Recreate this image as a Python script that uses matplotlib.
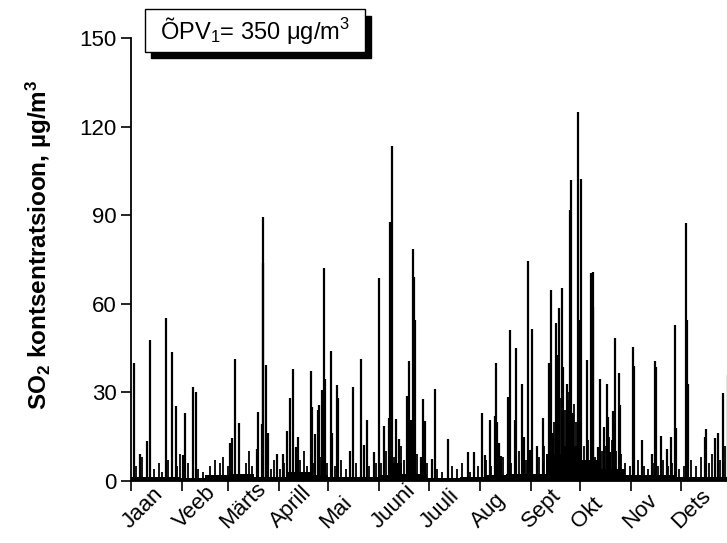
import numpy as np
import matplotlib
matplotlib.use("Agg")
import matplotlib.pyplot as plt
import matplotlib.transforms as mtransforms
from matplotlib.patches import Rectangle

plt.rcParams['font.family'] = ['Liberation Sans', 'DejaVu Sans']
plt.rcParams['mathtext.fontset'] = 'custom'
plt.rcParams['mathtext.rm'] = 'Liberation Sans'
plt.rcParams['mathtext.it'] = 'Liberation Sans:italic'
plt.rcParams['mathtext.bf'] = 'Liberation Sans:bold'

# month starts (day of year) and labels
month_days = [0, 31, 59, 90, 120, 151, 181, 212, 243, 273, 304, 334]
month_labels = ['Jaan', 'Veeb', 'Märts', 'Aprill', 'Mai', 'Juuni',
                'Juuli', 'Aug', 'Sept', 'Okt', 'Nov', 'Dets']
y_ticks = [0, 30, 60, 90, 120, 150]

# peak hours: day of year, SO2 value
peak_days = [1.9, 5.7, 9.8, 11.8, 21.3, 25.1, 27.4, 32.0, 33.3, 37.9, 39.7,
             60.4, 61.4, 63.4, 65.6, 77.0, 77.6, 79.6, 80.3, 80.6, 82.2, 83.2,
             88.7, 92.3, 94.8, 96.8, 98.4, 100.4, 101.4,
             109.3, 110.1, 112.1, 114.0, 114.6, 116.0, 117.2, 118.0, 121.5,
             122.3, 125.1, 126.1, 133.2, 134.9, 139.9, 141.9, 143.7, 147.8,
             150.8, 153.7, 156.7, 157.5, 158.7, 161.1, 162.8, 167.6, 168.8,
             170.1, 171.6, 172.0, 172.9, 176.1, 177.7, 178.7, 182.8, 184.8,
             192.5, 204.7, 208.5, 213.4, 215.4, 218.2, 221.1, 221.9, 222.7,
             223.5, 224.9, 229.1, 230.4, 233.2, 234.0, 237.6, 238.7, 241.5,
             242.4, 243.6, 246.6, 250.2, 253.9, 255.1, 256.3, 258.3, 259.5,
             260.3, 261.7, 262.7, 264.8, 265.4, 266.8, 267.4, 268.8, 271.6,
             272.4, 273.5, 276.9, 279.4, 280.6, 280.8, 284.0, 285.2, 287.4,
             289.1, 289.9, 291.1, 293.1, 294.1, 296.5, 297.1, 304.9, 305.8,
             310.3, 316.8, 318.4, 319.0, 321.9, 325.5, 327.9, 330.6, 331.2,
             337.2, 337.8, 338.2, 348.6, 349.6, 354.7, 356.6, 359.6, 362.5,
             363.7]
peak_vals = [39.8, 9.3, 13.5, 47.7, 55.1, 43.8, 25.4, 8.7, 22.9, 31.8, 30.0,
             12.7, 14.4, 41.2, 19.5, 11.0, 23.3, 19.3, 73.7, 89.3, 39.3, 16.1,
             9.0, 9.0, 17.0, 28.0, 37.9, 11.6, 14.8,
             37.3, 25.1, 15.9, 24.0, 25.7, 30.8, 72.0, 34.4, 43.9,
             16.1, 32.4, 28.2, 10.1, 31.9, 41.2, 12.2, 20.6, 9.9,
             68.6, 18.6, 21.4, 87.8, 113.6, 20.9, 14.1, 28.7, 40.6,
             20.8, 78.5, 69.2, 54.5, 8.2, 27.7, 20.3, 7.6, 31.0,
             14.1, 9.9, 9.9, 22.9, 8.7, 20.6, 22.0, 39.9, 20.0,
             13.0, 8.4, 28.4, 51.1, 20.8, 45.2, 32.7, 15.0, 74.6,
             10.4, 51.4, 11.9, 21.3, 39.8, 64.6, 16.1, 53.4, 42.6,
             58.5, 65.5, 38.5, 33.0, 27.4, 91.8, 102.0, 23.1, 125.0,
             54.5, 102.2, 41.0, 70.3, 59.0, 70.8, 11.6, 34.6, 18.3,
             33.0, 21.7, 9.9, 23.7, 48.5, 36.4, 25.9, 45.5, 38.9,
             13.8, 9.3, 40.6, 38.7, 15.2, 11.0, 14.8, 52.8, 18.0,
             87.3, 54.5, 32.7, 15.0, 17.6, 14.4, 16.3, 29.7, 35.9,
             13.0]

# smaller hourly values near the floor
small_days = [3, 7, 14, 17, 19, 23, 28, 30, 35, 41, 44, 48, 51, 54, 56,
              59, 66, 70, 72, 74, 85, 87, 89, 91, 93, 103, 105, 107, 111, 115,
              119, 124, 128, 131, 137, 145, 149, 152, 155, 160, 164, 166, 170,
              174, 180, 186, 189, 195, 198, 201, 206, 211, 216, 219, 226, 231,
              236, 240, 244, 248, 251, 254, 255.5, 257, 258.8, 261, 263.5, 266,
              267, 269.5, 270.5, 273, 275, 277.5, 282, 286, 288, 290.5, 292,
              295, 298, 300, 303, 308, 312, 314, 317, 320, 323, 326, 329, 333,
              336, 340, 343, 346, 351, 353, 358, 361, 364]
small_vals = [5, 8, 4, 6, 3, 7, 5, 9, 6, 4, 3, 5, 7, 6, 8,
              5, 8, 6, 10, 5, 4, 7, 5, 4, 6, 7, 10, 5, 6, 8,
              6, 5, 7, 4, 6, 5, 6, 6, 10, 8, 12, 7, 5,
              9, 6, 4, 3, 5, 4, 6, 3, 5, 7, 5, 8, 6,
              10, 7, 6, 8, 12, 18, 22, 20, 25, 28, 24, 30,
              18, 26, 20, 16, 12, 14, 8, 10, 12, 15, 14,
              10, 9, 6, 5, 7, 5, 4, 6, 5, 7, 5, 6, 4,
              5, 7, 5, 8, 6, 9, 7, 12, 8]

# typical background level between the peaks
bg_days = [0, 30, 45, 60, 75, 95, 110, 120, 150, 157, 165, 180, 200, 215,
           228, 252, 262, 272, 283, 300, 330, 365]
bg_level = [1.5, 1.0, 2.0, 2.5, 1.5, 3.0, 2.0, 1.5, 2.0, 6.0, 2.5, 1.0, 1.5,
            2.0, 2.5, 9.0, 12.0, 7.0, 4.0, 2.0, 1.5, 1.5]


def main():
    fig = plt.figure(figsize=(7.27, 5.43), dpi=100)
    ax = fig.add_axes([0.1796, 0.1142, 0.8270, 0.8158])

    ax.fill_between(bg_days, 0, bg_level, step='post', color='black', lw=0)
    ax.vlines(small_days, 0, small_vals, color='black', lw=1.3)
    ax.vlines(peak_days, 0, peak_vals, color='black', lw=1.6)

    ax.set_xlim(0, 365)
    ax.set_ylim(0, 150)
    ax.set_yticks(y_ticks)
    ax.set_xticks(month_days)
    ax.set_xticklabels([])

    # slanted month names, starting just left of each tick
    base = mtransforms.blended_transform_factory(ax.transData, ax.transAxes)
    shift = mtransforms.ScaledTranslation(-0.05, -0.44, fig.dpi_scale_trans)
    for d, name in zip(month_days, month_labels):
        ax.text(d, 0, name, transform=base + shift, rotation=45,
                rotation_mode='anchor', ha='left', va='center',
                fontsize=16, clip_on=False)

    ax.tick_params(axis='y', labelsize=16, length=7, width=1.2,
                   direction='out', pad=3)
    ax.tick_params(axis='x', length=7, width=1.2, direction='out')
    for side in ['top', 'right']:
        ax.spines[side].set_visible(False)
    for side in ['left', 'bottom']:
        ax.spines[side].set_linewidth(1.3)

    fig.text(0.054, 0.550,
             r'SO$_\mathbf{2}$ kontsentratsioon, µg/m$^\mathbf{3}$',
             rotation=90, ha='center', va='center', fontsize=17.5,
             fontweight='bold')

    # limit-value box with drop shadow
    bx, by, bw, bh = 0.1994, 0.9048, 0.3026, 0.0781
    fig.patches.append(Rectangle((bx + 0.0089, by - 0.0122), bw, bh,
                                 transform=fig.transFigure,
                                 facecolor='black', edgecolor='black'))
    fig.patches.append(Rectangle((bx, by), bw, bh, transform=fig.transFigure,
                                 facecolor='white', edgecolor='black', lw=1.0))
    fig.text(bx + bw / 2, by + bh / 2, r'ÕPV$_1$= 350 μg/m$^3$',
             ha='center', va='center', fontsize=17)

    fig.savefig('out.png', dpi=100)
    plt.close(fig)


if __name__ == "__main__":
    main()
